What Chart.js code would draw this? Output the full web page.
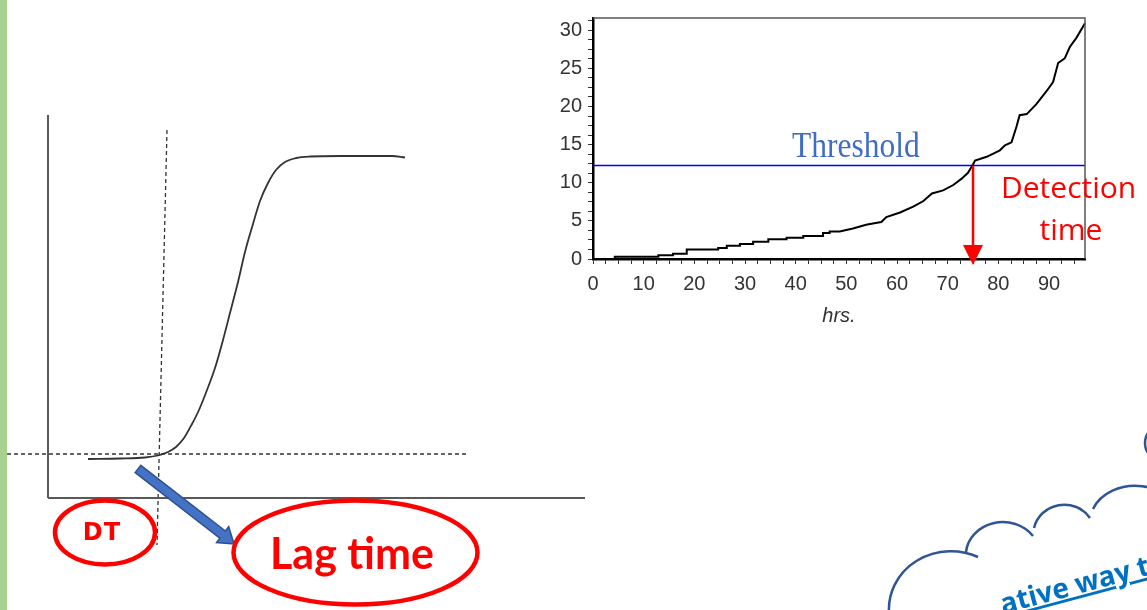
<!DOCTYPE html>
<html><head><meta charset="utf-8">
<script src="https://cdn.jsdelivr.net/npm/chart.js@4.4.1/dist/chart.umd.min.js"></script>
<style>
html,body{margin:0;padding:0;background:#fff;}
#page{position:relative;width:1147px;height:610px;overflow:hidden;background:#fff;}
#greenbar{position:absolute;left:0;top:0;width:7px;height:610px;background:#a9d18e;}
#leftWrap{position:absolute;left:0;top:0;width:600px;height:610px;}
#rightWrap{position:absolute;left:520px;top:0;width:600px;height:340px;}
#overlay{position:absolute;left:0;top:0;}
</style></head><body>
<div id="page">
<div id="leftWrap"><canvas id="left" width="600" height="610"></canvas></div>
<div id="rightWrap"><canvas id="right" width="600" height="340"></canvas></div>
<div id="greenbar"></div>
<svg id="overlay" width="1147" height="610" xmlns="http://www.w3.org/2000/svg">
  <!-- right chart labels -->
  <text transform="translate(792,157) scale(0.9,1)" font-family="Liberation Serif" font-size="35" fill="#3f6cc4">Threshold</text>
  <text x="1001" y="198" font-family="Open Sans" font-size="30" fill="#ff0000">Detection</text>
  <text x="1071" y="240" text-anchor="middle" font-family="Open Sans" font-size="30" fill="#ff0000">time</text>
  <!-- left chart annotations -->
  <polygon points="135.2,472.6 219.8,538.2 216.5,542.5 234,544 228.7,526.7 225.4,531.0 140.8,465.4" fill="#4472c4" stroke="#2f528f" stroke-width="1.5" stroke-linejoin="miter"/>
  <ellipse cx="105" cy="532.5" rx="50" ry="32" fill="none" stroke="#ff0000" stroke-width="4.5"/>
  <text x="102" y="540" text-anchor="middle" font-family="DejaVu Sans" font-weight="bold" font-size="24" letter-spacing="1" fill="#ff0000">DT</text>
  <ellipse cx="355.5" cy="552.5" rx="122" ry="52" fill="none" stroke="#ff0000" stroke-width="4.5"/>
  <text x="352" y="569" text-anchor="middle" font-family="Lato" font-weight="bold" font-size="43" fill="#ff0000">Lag time</text>
  <!-- cloud -->
  <g fill="none" stroke="#2f5597" stroke-width="2.5">
    <path d="M 889 612 A 62 58 0 0 1 978 557"/>
    <path d="M 966 552 A 37 33 0 0 1 1033 536"/>
    <path d="M 1034 528 A 31 30 0 0 1 1090 518"/>
    <path d="M 1093 509 A 45 36 0 0 1 1180 520"/>
    <circle cx="1163" cy="443" r="18"/>
  </g>
  <text x="1003" y="614" transform="rotate(-15 1003 614)" font-family="Open Sans" font-weight="bold" font-size="28" fill="#0070c0" text-decoration="underline">ative way to</text>
</svg>
</div>
<script>
// ---------- Right chart data (growth signal vs hours) ----------
const growthHours  = [0, 4.3, 4.3, 12.9, 12.9, 15.8, 15.8, 18.5, 18.5, 24.7, 24.7, 26.4, 26.4, 29.0, 29.0, 31.6, 31.6, 34.6, 34.6, 38.2, 38.2, 41.5, 41.5, 45.4, 45.4, 46.7, 46.7, 48.7, 50.0, 51.3, 53.9, 55.5, 56.9, 57.9, 60.6, 63.3, 65.2, 66.9, 69.1, 71.1, 72.7, 74.0, 75.0, 75.4, 77.7, 80.3, 81.3, 82.6, 83.6, 84.2, 85.6, 87.5, 89.5, 90.8, 91.8, 93.1, 94.1, 95.4, 97.1];
const growthValues = [0, 0, 0.29, 0.29, 0.5, 0.5, 0.7, 0.7, 1.24, 1.24, 1.45, 1.45, 1.75, 1.75, 1.96, 1.96, 2.25, 2.25, 2.58, 2.58, 2.8, 2.8, 3.0, 3.0, 3.4, 3.4, 3.6, 3.6, 3.8, 4.0, 4.5, 4.7, 4.85, 5.5, 6.1, 6.9, 7.6, 8.6, 9.0, 9.7, 10.5, 11.3, 12.4, 12.9, 13.4, 14.25, 14.9, 15.3, 17.4, 18.85, 19.0, 20.3, 22.0, 23.2, 25.7, 26.3, 27.8, 29.0, 30.9];
const thresholdHours = [0, 97.1];
const thresholdLevel = [12.25, 12.25];
const detectionHours = [75];
const xTickLabels = ['0','10','20','30','40','50','60','70','80','90'];
const yTickLabels = ['0','5','10','15','20','25','30'];

// ---------- Left chart data (schematic sigmoid) ----------
const sigmoidTime  = [4.0, 7.2, 9.7, 11.0, 12.0, 12.8, 13.6, 14.4, 15.1, 15.9, 16.7, 17.5, 18.2, 19.0, 19.7, 20.5, 21.2, 22.0, 22.8, 23.7, 24.8, 26.2, 29.2, 32.2, 34.4, 35.7];
const sigmoidLevel = [3.9, 3.95, 4.05, 4.25, 4.6, 5.1, 6.0, 7.4, 8.8, 10.8, 13.0, 15.8, 18.5, 21.6, 24.6, 27.4, 29.7, 31.5, 32.8, 33.6, 34.0, 34.15, 34.2, 34.2, 34.2, 34.05];
const baselineTime  = [-4.1, 42.1];
const baselineLevel = [4.4, 4.4];
const lagLineTime   = [11.9, 10.9];
const lagLineLevel  = [36.8, -4.7];
const yAxisTime  = [0, 0];
const yAxisLevel = [38.3, 0];
const xAxisTime  = [0, 53.7];
const xAxisLevel = [0, 0];

const pts = (xs, ys) => xs.map((x, i) => ({x, y: ys[i]}));
const tickFont = {family: 'Liberation Sans', size: 20};

const framePlugin = {
  id: 'frame',
  afterDraw(chart) {
    const {ctx, chartArea: a} = chart;
    ctx.save();
    ctx.strokeStyle = '#555';
    ctx.lineWidth = 1.5;
    ctx.beginPath();
    ctx.moveTo(a.left, a.top); ctx.lineTo(a.right, a.top); ctx.lineTo(a.right, a.bottom);
    ctx.stroke();
    ctx.restore();
  }
};
const arrowPlugin = {
  id: 'detArrow',
  afterDatasetsDraw(chart) {
    const {ctx, chartArea: a, scales} = chart;
    const x = scales.x.getPixelForValue(detectionHours[0]);
    const yTop = scales.y.getPixelForValue(thresholdLevel[0]);
    const tip = a.bottom + 6, base = a.bottom - 14;
    ctx.save();
    ctx.strokeStyle = '#ff0000'; ctx.fillStyle = '#ff0000'; ctx.lineWidth = 2.5;
    ctx.beginPath(); ctx.moveTo(x, yTop); ctx.lineTo(x, base + 1); ctx.stroke();
    ctx.beginPath(); ctx.moveTo(x - 10, base); ctx.lineTo(x + 10, base); ctx.lineTo(x, tip); ctx.closePath(); ctx.fill();
    ctx.restore();
  }
};

new Chart(document.getElementById('right'), {
  type: 'line',
  data: {
    datasets: [
      {data: pts(growthHours, growthValues), borderColor: '#000', borderWidth: 2, pointRadius: 0, tension: 0, clip: 4},
      {data: pts(thresholdHours, thresholdLevel), borderColor: '#0000ff', borderWidth: 1.5, pointRadius: 0, tension: 0}
    ]
  },
  options: {
    responsive: false, animation: false, events: [],
    layout: {padding: {top: 6, right: 35, left: 0, bottom: 0}},
    plugins: {legend: {display: false}, tooltip: {enabled: false}},
    scales: {
      x: {
        type: 'linear', min: 0, max: 97.1,
        afterFit(s) { s.height = 81; },
        ticks: {stepSize: 2.5, autoSkip: false, includeBounds: false, maxRotation: 0, padding: 8, color: '#333', font: tickFont,
          callback: v => { const s = String(Math.round(v)); return (Math.abs(v % 10) < 1e-6 && xTickLabels.includes(s)) ? s : ''; }},
        grid: {drawOnChartArea: false, drawTicks: true, tickLength: 5, tickColor: '#333', lineWidth: 1},
        border: {display: true, color: '#000', width: 2.5},
        title: {display: true, text: 'hrs.', color: '#333', font: {family: 'Liberation Sans', size: 20, style: 'italic'}, padding: {top: 0, bottom: 12}}
      },
      y: {
        type: 'linear', min: 0, max: 31.6,
        afterFit(s) { s.width = 73; },
        ticks: {stepSize: 1.25, autoSkip: false, includeBounds: false, padding: 6, color: '#333', font: tickFont,
          callback: v => { const s = String(Math.round(v)); return (Math.abs(v % 5) < 1e-6 && yTickLabels.includes(s)) ? s : ''; }},
        grid: {drawOnChartArea: false, drawTicks: true, tickLength: 5, tickColor: '#333', lineWidth: 1},
        border: {display: true, color: '#000', width: 2.5}
      }
    }
  },
  plugins: [framePlugin, arrowPlugin]
});

new Chart(document.getElementById('left'), {
  type: 'line',
  data: {
    datasets: [
      {data: pts(yAxisTime, yAxisLevel), borderColor: '#595959', borderWidth: 2, pointRadius: 0},
      {data: pts(xAxisTime, xAxisLevel), borderColor: '#595959', borderWidth: 2, pointRadius: 0},
      {data: pts(baselineTime, baselineLevel), borderColor: '#333', borderWidth: 1.3, borderDash: [4, 3], pointRadius: 0},
      {data: pts(lagLineTime, lagLineLevel), borderColor: '#333', borderWidth: 1.3, borderDash: [4, 3], pointRadius: 0},
      {data: pts(sigmoidTime, sigmoidLevel), borderColor: '#333', borderWidth: 1.8, pointRadius: 0, cubicInterpolationMode: 'monotone'}
    ]
  },
  options: {
    responsive: false, animation: false, events: [],
    layout: {padding: 0},
    plugins: {legend: {display: false}, tooltip: {enabled: false}},
    scales: {
      x: {type: 'linear', display: false, min: -4.8, max: 55.2},
      y: {type: 'linear', display: false, min: -11.2, max: 49.8}
    }
  }
});
</script>
</body></html>
